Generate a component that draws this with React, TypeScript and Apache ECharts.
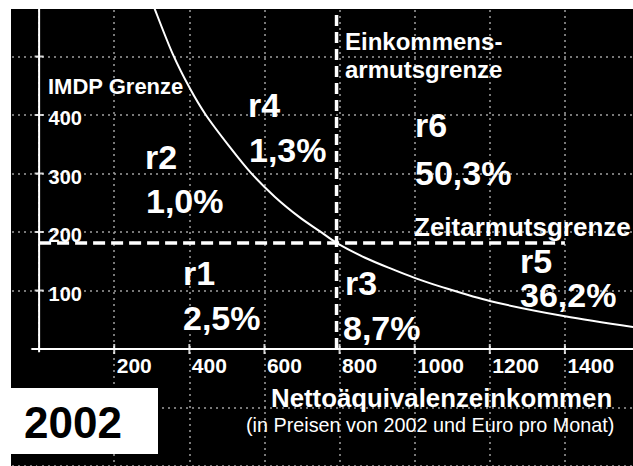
import React, { useEffect, useRef } from "react";
import * as echarts from "echarts";

// ---- data ----
const xTicks = [200, 400, 600, 800, 1000, 1200, 1400];
const yTicks = [100, 200, 300, 400, 500];
const yTickLabels = [100, 200, 300, 400];
const curvePoints: [number, number][] = [
  [295, 605], [308, 581], [356, 504], [401, 446], [444, 400], [508, 345],
  [564, 301], [628, 260], [694, 225], [748, 201], [793, 181], [868, 156],
  [942, 136], [998, 122], [1067, 107], [1200, 82], [1400, 56], [1600, 36],
];
const incomePovertyLine = 792;
const timePovertyLine = 181;
const timeLineEnd = 1400;
const regionNames = ["r1", "r2", "r3", "r4", "r5", "r6"];
const regionShares = ["2,5%", "1,0%", "8,7%", "1,3%", "36,2%", "50,3%"];
const year = "2002";
const xTitle = "Nettoäquivalenzeinkommen";
const xSubtitle = "(in Preisen von 2002 und Euro pro Monat)";
const imdpLabel = "IMDP Grenze";
const incomeLabel = ["Einkommens-", "armutsgrenze"];
const timeLabel = "Zeitarmutsgrenze";

const FONT = "'Liberation Sans', Arial, Helvetica, sans-serif";

// label positions (pixel, chart coords): [nameX, nameBaseline, shareX, shareBaseline]
const regionPos: [number, number, number, number][] = [
  [172, 276, 172, 321],
  [134, 160, 135, 204],
  [334, 286, 332, 331],
  [237, 108, 238, 153],
  [509, 264, 509, 298],
  [404, 128, 404, 176],
];

function txt(text: string, x: number, baseline: number, size: number, weight: string, color = "#fff") {
  return {
    type: "text",
    x,
    y: baseline - 0.35 * size,
    z: 100,
    style: {
      text,
      fill: color,
      fontSize: size,
      fontWeight: weight,
      fontFamily: FONT,
      align: "left",
      verticalAlign: "middle",
      textAlign: "left",
      textVerticalAlign: "middle",
    },
  };
}

export default function App() {
  const ref = useRef<HTMLDivElement>(null);
  useEffect(() => {
    if (!ref.current) return;
    const chart = echarts.init(ref.current, undefined, { renderer: "svg" });
    const white = "#ffffff";
    const graphics: any[] = [];
    regionNames.forEach((n, i) => {
      const p = regionPos[i];
      graphics.push(txt(n, p[0], p[1], 34, "bold"));
      graphics.push(txt(regionShares[i], p[2], p[3], 34, "bold"));
    });
    graphics.push(txt(imdpLabel, 37, 85, 22, "bold"));
    graphics.push(txt(incomeLabel[0], 334, 41, 24, "bold"));
    graphics.push(txt(incomeLabel[1], 334, 69, 24, "bold"));
    graphics.push(txt(timeLabel, 403, 227, 26, "bold"));
    graphics.push(txt(xTitle, 260, 398, 25.8, "bold"));
    graphics.push(txt(xSubtitle, 235, 423, 19.8, "normal"));
    graphics.push({
      type: "rect",
      z: 99,
      shape: { x: 0, y: 379, width: 147, height: 66 },
      style: { fill: "#ffffff" },
    });
    graphics.push(txt(year, 13, 429, 44, "bold", "#000000"));

    const split = { show: true, lineStyle: { color: "#a0a0a0", width: 1.5, type: [2, 4] } };
    const tickLabel = {
      show: true,
      align: "left",
      color: white,
      opacity: 1,
      fontWeight: "bold",
      textBorderWidth: 0,
      textShadowBlur: 0,
      fontFamily: FONT,
    };

    chart.setOption({
      animation: false,
      backgroundColor: "#000000",
      grid: {
        left: -47,
        right: -7,
        top: -11,
        bottom: 0,
        containLabel: false,
        outerBoundsMode: "none",
      },
      xAxis: {
        type: "value",
        min: -200,
        max: 1600,
        interval: 200,
        axisLine: { show: false },
        axisTick: { show: false },
        axisLabel: { show: false },
        splitLine: split,
      },
      yAxis: {
        type: "value",
        min: -200,
        max: 600,
        interval: 100,
        axisLine: { show: false },
        axisTick: { show: false },
        axisLabel: { show: false },
        splitLine: split,
      },
      graphic: graphics,
      series: [
        {
          type: "line",
          name: "maskV",
          data: [[0, -200], [0, -6]],
          symbol: "none",
          lineStyle: { color: "#000", width: 4 },
          z: 1,
        },
        {
          type: "line",
          name: "maskH",
          data: [[-200, 0], [-22, 0]],
          symbol: "none",
          lineStyle: { color: "#000", width: 4 },
          z: 1,
        },
        {
          type: "line",
          name: "xaxis",
          data: [[-20, 0], [1600, 0]],
          symbol: "none",
          lineStyle: { color: white, width: 2 },
          z: 5,
        },
        {
          type: "line",
          name: "yaxis",
          data: [[0, -5], [0, 600]],
          symbol: "none",
          lineStyle: { color: white, width: 2 },
          z: 5,
        },
        {
          type: "scatter",
          name: "xticks",
          data: xTicks.map((v) => [v, 0]),
          symbol: "rect",
          symbolSize: [2, 10],
          itemStyle: { color: white },
          label: {
            ...tickLabel,
            position: [3.5, 10.5],
            verticalAlign: "top",
            fontSize: 21,
            formatter: (p: any) => String(p.value[0]),
          },
          z: 6,
        },
        {
          type: "scatter",
          name: "yticks",
          data: yTicks.map((v) => [0, v]),
          symbol: "rect",
          symbolSize: [9, 2],
          itemStyle: { color: white },
          label: {
            ...tickLabel,
            position: [14, 4],
            verticalAlign: "middle",
            fontSize: 20,
            formatter: (p: any) => (yTickLabels.includes(p.value[1]) ? String(p.value[1]) : ""),
          },
          z: 6,
        },
        {
          type: "line",
          name: "curve",
          data: curvePoints,
          smooth: 0.3,
          symbol: "none",
          lineStyle: { color: white, width: 2 },
          z: 4,
        },
        {
          type: "line",
          name: "time",
          data: [[0, timePovertyLine], [timeLineEnd, timePovertyLine]],
          symbol: "none",
          lineStyle: { color: white, width: 3.5, type: [12, 6] },
          z: 3,
        },
        {
          type: "line",
          name: "income",
          data: [[incomePovertyLine, 0], [incomePovertyLine, 600]],
          symbol: "none",
          lineStyle: { color: white, width: 3.5, type: [11, 6] },
          z: 3,
        },
      ],
    });
    return () => chart.dispose();
  }, []);
  return (
    <div
      ref={ref}
      style={{ position: "absolute", left: 11, top: 9, width: 622, height: 457 }}
    />
  );
}
